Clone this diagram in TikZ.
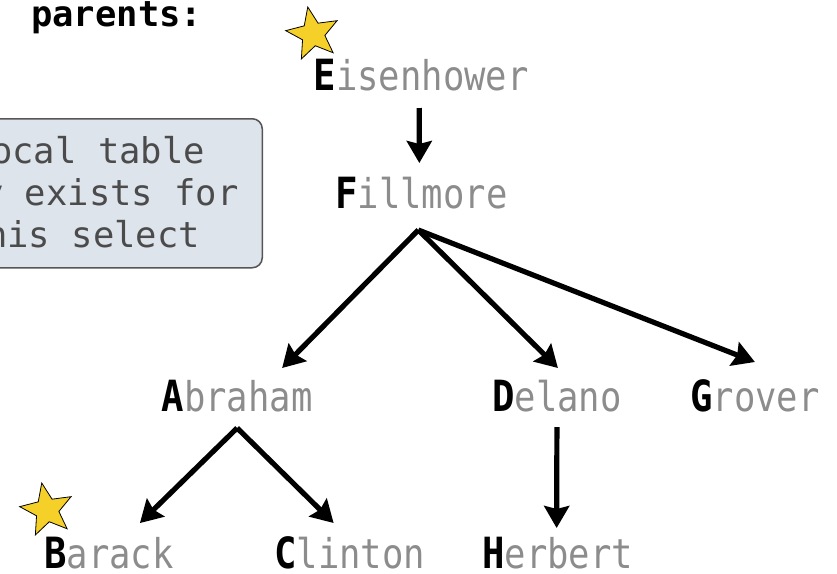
\documentclass[tikz,border=0pt]{standalone}
\usepackage{fontspec}
\setmonofont{DejaVu Sans Mono}
\newfontfamily\namefont[FakeStretch=0.867]{DejaVu Sans Mono}
\usetikzlibrary{arrows.meta,shapes.geometric,calc}
\definecolor{lbl}{RGB}{140,140,140}
\definecolor{boxfill}{RGB}{221,228,236}
\definecolor{boxline}{RGB}{85,85,85}
\definecolor{boxtext}{RGB}{75,75,75}
\definecolor{stary}{RGB}{245,208,40}
\newcommand\firstl[1]{{\fontsize{43}{48}\selectfont\bfseries\color{black}#1}}
\begin{document}
\begin{tikzpicture}[x=1pt,y=-1pt,
  person/.style={anchor=base west,inner sep=0pt,font=\fontsize{41}{48}\namefont,text=lbl},
  boxtxt/.style={anchor=base west,inner sep=0pt,font=\fontsize{35.5}{42}\ttfamily,text=boxtext},
  notebox/.style={draw=boxline,fill=boxfill,rounded corners=10pt,line width=1.5pt,inner sep=0pt},
  arr/.style={line width=5.2pt,-{Stealth[length=22pt,width=25pt,inset=3pt]}},
  goldstar/.style={star,star points=5,star point ratio=2.3,minimum size=55pt,inner sep=0pt,fill=stary,draw=black,line width=0.8pt,rotate=11}]
\useasboundingbox (0,0) rectangle (837,573);
\clip (0,0) rectangle (837,573);

% heading
\node[anchor=base west,inner sep=0pt,text=black,font=\fontsize{35.5}{42}\ttfamily\bfseries] (par) at (31,26) {parents:};

% note box
\node[notebox,minimum width=300pt,minimum height=149pt,anchor=north east] (box) at (263,118) {};
\node[boxtxt] (b1) at (-9,163) {ocal table};
\node[boxtxt] (b2) at (-18,205) {y exists for};
\node[boxtxt] (b3) at (-14,247) {his select};

% people
\node[person] (E) at (313.5,90) {\firstl{E}isenhower};
\node[person] (F) at (335,208) {\firstl{F}illmore};
\node[person] (A) at (161.5,411) {\firstl{A}braham};
\node[person] (D) at (492,411) {\firstl{D}elano};
\node[person] (G) at (690,411) {\firstl{G}rover};
\node[person] (B) at (44,568) {\firstl{B}arack};
\node[person] (C) at (274,568) {\firstl{C}linton};
\node[person] (H) at (482,568) {\firstl{H}erbert};

% stars
\node[goldstar] (sE) at (313,34) {};
\node[goldstar] (sB) at (47,510) {};

% arrows
\draw[arr] ($(E.base)+(-2,18)$) -- ($(F.base)+(-2,-45)$);
\draw[arr] ($(F.base)+(-3,22)$) -- ($(A.base)+(45,-43)$);
\draw[arr] ($(F.base)+(-3,22)$) -- ($(D.base)+(1,-43)$);
\draw[arr] ($(F.base)+(-3,22)$) -- ($(G.base)+(0,-49)$);
\draw[arr] ($(A.base)+(0,17)$) -- ($(B.base)+(31,-45)$);
\draw[arr] ($(A.base)+(0,17)$) -- ($(C.base)+(-16,-45)$);
\draw[arr] ($(D.base)+(0,16)$) -- ($(H.base)+(-1,-40)$);
\end{tikzpicture}
\end{document}
